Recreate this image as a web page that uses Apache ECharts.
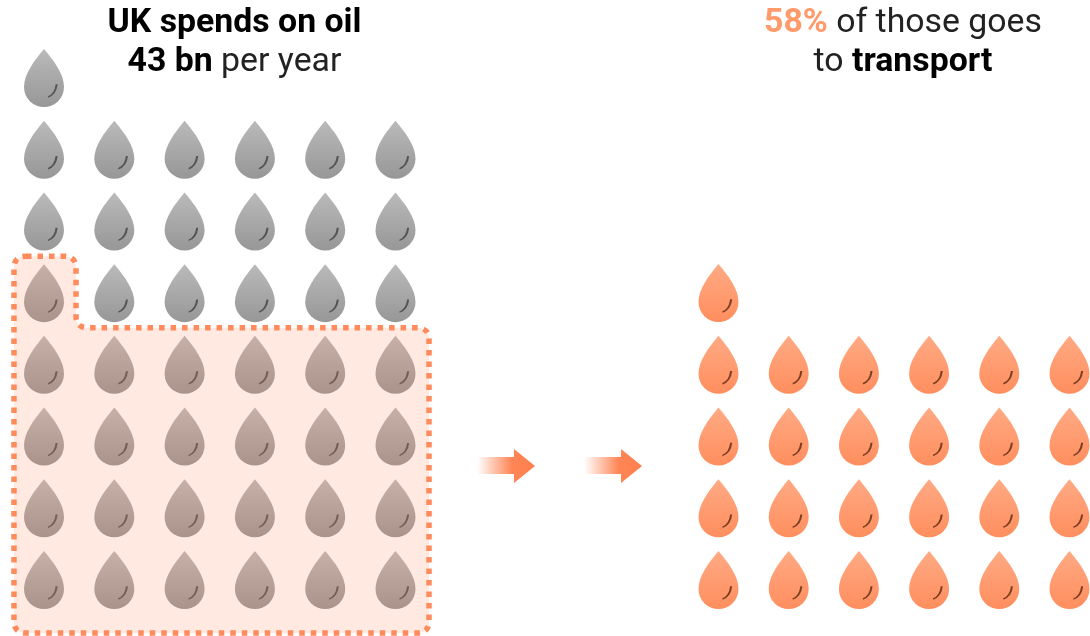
<!DOCTYPE html>
<html><head><meta charset="utf-8">
<style>html,body{margin:0;padding:0;background:#fff}#c{width:1090px;height:636px}</style>
<script src="https://cdn.jsdelivr.net/npm/echarts@6/dist/echarts.min.js"></script>
</head><body><div id="c"></div>
<script>
// Drops per row, bottom row first (one drop = 1 bn)
const spendRowCounts = [6, 6, 6, 6, 6, 6, 6, 1];   // 43 bn
const transportRowCounts = [6, 6, 6, 6, 1];        // 25 bn = 58%
const highlightRowCounts = [6, 6, 6, 6, 1];
const leftTitle = ['UK spends on oil', '43 bn', ' per year'];
const rightTitle = ['58%', ' of those goes', 'to ', 'transport'];

function cells(rows) {
  const out = [];
  rows.forEach((n, r) => { for (let c = 0; c < n; c++) out.push([c, r]); });
  return out;
}
const DROP = 'path://M20 0C30 12 40 25 40 38A20 20 0 0 1 0 38C0 25 10 12 20 0Z';
const GLINT = 'path://M9 0C8.6 5 5.5 10.5 0 12C4.6 10 7.4 5 8 0Z';
const FONT = 'Roboto';

function grad(top, bottom) {
  return new echarts.graphic.LinearGradient(0, 0, 0, 1, [
    { offset: 0, color: top }, { offset: 1, color: bottom }
  ]);
}
function dropSeries(data, idx, top, bottom, glint, z) {
  return [{
    type: 'scatter', xAxisIndex: idx, yAxisIndex: idx, data, clip: false, silent: true, z,
    symbol: DROP, symbolSize: [40, 58],
    itemStyle: { color: grad(top, bottom), opacity: 1 }
  }, {
    type: 'scatter', xAxisIndex: idx, yAxisIndex: idx, data, clip: false, silent: true, z: z + 1,
    symbol: GLINT, symbolSize: [9, 12], symbolOffset: [8.5, 13],
    itemStyle: { color: 'none', borderColor: glint, borderWidth: 1.2, opacity: 1 }
  }];
}
function renderHighlight(params, api) {
  const full = highlightRowCounts.filter(n => n === highlightRowCounts[0]).length;
  const bl = api.coord([0, 0]), tr = api.coord([highlightRowCounts[0] - 1, full - 1]);
  const top1 = api.coord([0, full]);
  const L = bl[0] - 30, R = tr[0] + 33.5, B = bl[1] + 53, T = tr[1] - 37;
  const NX = bl[0] + 32, NT = top1[1] - 37, r = 12;
  const d = `M${L + r} ${NT}L${NX - r} ${NT}Q${NX} ${NT} ${NX} ${NT + r}L${NX} ${T - r}Q${NX} ${T} ${NX + r} ${T}` +
    `L${R - r} ${T}Q${R} ${T} ${R} ${T + r}L${R} ${B - r}Q${R} ${B} ${R - r} ${B}` +
    `L${L + r} ${B}Q${L} ${B} ${L} ${B - r}L${L} ${NT + r}Q${L} ${NT} ${L + r} ${NT}Z`;
  return {
    type: 'path', shape: { pathData: d },
    style: { fill: 'rgba(255,135,85,0.18)', stroke: '#ff8a5c', lineWidth: 5.5, lineDash: [5.5, 6] }
  };
}
function arrow(x) {
  return {
    type: 'polygon', silent: true,
    shape: { points: [[x, 457], [x + 37, 457], [x + 37, 449], [x + 58, 466], [x + 37, 483], [x + 37, 474], [x, 474]] },
    style: {
      fill: new echarts.graphic.LinearGradient(0, 0, 1, 0, [
        { offset: 0, color: 'rgba(255,127,77,0)' },
        { offset: 0.6, color: 'rgba(255,127,77,0.95)' },
        { offset: 1, color: '#ff7f4d' }
      ])
    }
  };
}
const rich = {
  b: { fontFamily: FONT, fontSize: 33.8, fontWeight: 700, color: '#000', lineHeight: 39 },
  r: { fontFamily: FONT, fontSize: 33.8, fontWeight: 400, color: '#222', lineHeight: 39 },
  o: { fontFamily: FONT, fontSize: 33.8, fontWeight: 700, color: '#ff9a6b', lineHeight: 39 }
};
const hiddenAxis = (max, idx) => ({ type: 'value', min: 0, max, show: false, gridIndex: idx });

const chart = echarts.init(document.getElementById('c'), null, { renderer: 'canvas' });
chart.setOption({
  animation: false,
  backgroundColor: '#fff',
  title: [
    { left: 229.5, top: -1, textAlign: 'center', textStyle: { rich, fontFamily: FONT },
      text: `{b|${leftTitle[0]}}\n{b|${leftTitle[1]}}{r|${leftTitle[2]}}` },
    { left: 898, top: -1, textAlign: 'center', textStyle: { rich, fontFamily: FONT },
      text: `{o|${rightTitle[0]}}{r|${rightTitle[1]}}\n{r|${rightTitle[2]}}{b|${rightTitle[3]}}` }
  ],
  grid: [
    { left: 44, top: 78, width: 351.5, height: 502 },
    { left: 718.5, top: 293, width: 351, height: 287 }
  ],
  xAxis: [hiddenAxis(5, 0), hiddenAxis(5, 1)],
  yAxis: [hiddenAxis(spendRowCounts.length - 1, 0), hiddenAxis(transportRowCounts.length - 1, 1)],
  graphic: [arrow(477), arrow(584)],
  series: [
    ...dropSeries(cells(spendRowCounts), 0, '#bababa', '#979797', '#555', 2),
    ...dropSeries(cells(transportRowCounts), 1, '#ffaa84', '#ff8e5e', '#7a3f22', 2),
    { type: 'custom', xAxisIndex: 0, yAxisIndex: 0, coordinateSystem: 'cartesian2d',
      data: [[0, 0]], renderItem: renderHighlight, clip: false, silent: true, z: 5 }
  ]
});
</script></body></html>
